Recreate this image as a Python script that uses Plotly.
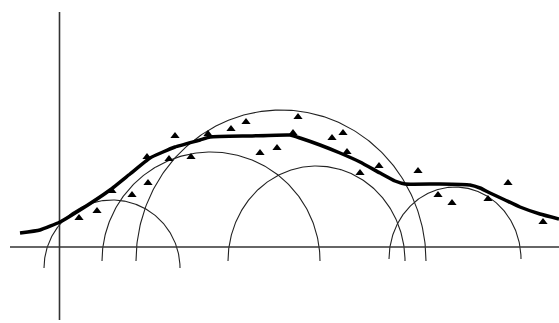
import numpy as np
import plotly.graph_objects as go

W, H = 559, 323

# Smooth trend curve (x, y in screen-like units, y grows downward)
curve_x = [20, 40, 60, 80, 110, 130, 150, 175, 200, 210, 250, 290, 300, 320, 340,
           360, 380, 395, 405, 440, 470, 480, 490, 505, 520, 540, 559]
curve_y = [233, 230, 222, 210, 190, 174, 158, 147, 140, 137, 136, 135, 138, 145, 153,
           162, 173, 181, 184, 184, 185, 188, 193, 200, 207, 214, 219]

# Observed points
pts_x = [79, 97, 112, 132, 147, 148, 169, 175, 191, 208, 231, 246, 260, 277, 293,
         298, 332, 343, 347, 360, 379, 418, 438, 452, 488, 508, 543]
pts_y = [218, 211, 191, 195, 157, 183, 159, 136, 157, 134, 129, 122, 153, 148, 133,
         117, 138, 133, 152, 173, 166, 171, 195, 203, 199, 183, 222]

# Kernel arcs: centre x, base y, horizontal and vertical radius
arc_cx = [112, 211, 281, 316.5, 455]
arc_base = [268, 261, 261, 261, 259]
arc_rx = [68, 109, 145, 88.5, 66]
arc_ry = [68, 109, 151, 95, 72]

# Axes
xaxis_y = 247
xaxis_span = [10, 559]
yaxis_x = 59.5
yaxis_span = [12, 320]

fig = go.Figure()

t = np.linspace(0, np.pi, 200)
for cx, by, rx, ry in zip(arc_cx, arc_base, arc_rx, arc_ry):
    fig.add_trace(go.Scatter(
        x=cx - rx * np.cos(t), y=by - ry * np.sin(t), mode="lines",
        line=dict(color="#222222", width=1.1), hoverinfo="skip", showlegend=False))

fig.add_trace(go.Scatter(x=xaxis_span, y=[xaxis_y, xaxis_y], mode="lines",
                         line=dict(color="#333333", width=1.6), showlegend=False))
fig.add_trace(go.Scatter(x=[yaxis_x, yaxis_x], y=yaxis_span, mode="lines",
                         line=dict(color="#333333", width=1.6), showlegend=False))

fig.add_trace(go.Scatter(x=curve_x, y=curve_y, mode="lines",
                         line=dict(color="black", width=3.5, shape="spline", smoothing=0.4),
                         showlegend=False))

fig.add_trace(go.Scatter(x=pts_x, y=pts_y, mode="markers",
                         marker=dict(symbol="triangle-up", size=8, color="black"),
                         showlegend=False))

fig.update_layout(
    width=W, height=H, margin=dict(l=0, r=0, t=0, b=0),
    plot_bgcolor="white", paper_bgcolor="white",
    xaxis=dict(range=[0, W], visible=False, fixedrange=True),
    yaxis=dict(range=[H, 0], visible=False, fixedrange=True),
)

fig.write_html("out.html")
